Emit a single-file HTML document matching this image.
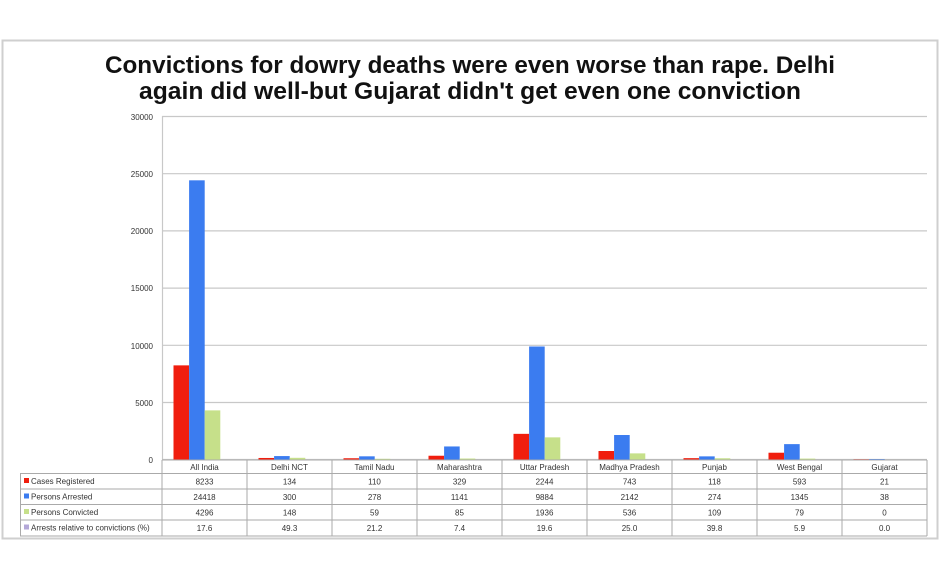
<!DOCTYPE html>
<html><head><meta charset="utf-8"><style>
html,body{margin:0;padding:0;background:#fff;width:940px;height:580px;overflow:hidden}
</style></head><body>
<svg width="940" height="580" xmlns="http://www.w3.org/2000/svg" font-family="Liberation Sans, DejaVu Sans, sans-serif">
<rect x="2.5" y="40.5" width="935" height="498" fill="#fff" stroke="#cfcfcf" stroke-width="2"/>
<text x="470" y="73" text-anchor="middle" font-size="24" font-weight="bold" fill="#111" textLength="730" lengthAdjust="spacingAndGlyphs">Convictions for dowry deaths were even worse than rape. Delhi</text>
<text x="470" y="99" text-anchor="middle" font-size="24" font-weight="bold" fill="#111" textLength="662" lengthAdjust="spacingAndGlyphs">again did well-but Gujarat didn't get even one conviction</text>
<g stroke="#c8c8c8" stroke-width="1.2">
<line x1="162" y1="116.5" x2="927" y2="116.5"/>
<line x1="162" y1="173.7" x2="927" y2="173.7"/>
<line x1="162" y1="230.9" x2="927" y2="230.9"/>
<line x1="162" y1="288.1" x2="927" y2="288.1"/>
<line x1="162" y1="345.3" x2="927" y2="345.3"/>
<line x1="162" y1="402.5" x2="927" y2="402.5"/>
<line x1="162" y1="459.5" x2="927" y2="459.5"/>
<line x1="162.5" y1="116" x2="162.5" y2="460"/>
</g>
<g font-size="8" fill="#333" text-anchor="end">
<text x="153" y="120">30000</text><text x="153" y="177">25000</text><text x="153" y="234">20000</text>
<text x="153" y="291">15000</text><text x="153" y="349">10000</text><text x="153" y="406">5000</text><text x="153" y="463">0</text>
</g>
<g id="bars"></g>
<g id="table"></g>
<script>
var cats=["All India","Delhi NCT","Tamil Nadu","Maharashtra","Uttar Pradesh","Madhya Pradesh","Punjab","West Bengal","Gujarat"];
var d=[[8233,134,110,329,2244,743,118,593,21],[24418,300,278,1141,9884,2142,274,1345,38],[4296,148,59,85,1936,536,109,79,0],["17.6","49.3","21.2","7.4","19.6","25.0","39.8","5.9","0.0"]];
var cols=["#f01e0e","#3b7cf0","#c6e08a","#b4a8d8"];
var ns="http://www.w3.org/2000/svg";
function el(t,a,p,txt){var e=document.createElementNS(ns,t);for(var k in a)e.setAttribute(k,a[k]);if(txt!=null)e.textContent=txt;p.appendChild(e);return e;}
var B=document.getElementById("bars"),T=document.getElementById("table");
var y0=459.5,sc=343/30000,cw=85;
for(var i=0;i<9;i++){var x=162+i*cw+11.5;for(var s=0;s<3;s++){var h=d[s][i]*sc;el("rect",{x:x+s*15.6,y:y0-h,width:15.6,height:h,fill:cols[s]},B);}}
var rows=[460,473.5,489,504.5,520,536];
var labels=["Cases Registered","Persons Arrested","Persons Convicted","Arrests relative to convictions (%)"];
// grid
el("line",{x1:162,y1:460,x2:927,y2:460,stroke:"#aaa"},T);
for(var r=1;r<6;r++)el("line",{x1:20,y1:rows[r],x2:927,y2:rows[r],stroke:"#aaa"},T);
el("line",{x1:20.5,y1:473.5,x2:20.5,y2:536,stroke:"#aaa"},T);
for(var i=0;i<=9;i++)el("line",{x1:162+i*cw,y1:460,x2:162+i*cw,y2:536,stroke:"#aaa"},T);
for(var i=0;i<9;i++){var cx=162+i*cw+cw/2;el("text",{x:cx,y:470,"font-size":"8","text-anchor":"middle",fill:"#333"},T,cats[i]);
for(var s=0;s<4;s++)el("text",{x:cx,y:rows[s+1]+11,"font-size":"8","text-anchor":"middle",fill:"#333"},T,String(d[s][i]));}
for(var s=0;s<4;s++){el("rect",{x:24,y:rows[s+1]+4.5,width:5,height:5,fill:cols[s]},T);el("text",{x:31,y:rows[s+1]+10.5,"font-size":"8",fill:"#333"},T,labels[s]);}
</script>
</svg>
</body></html>
